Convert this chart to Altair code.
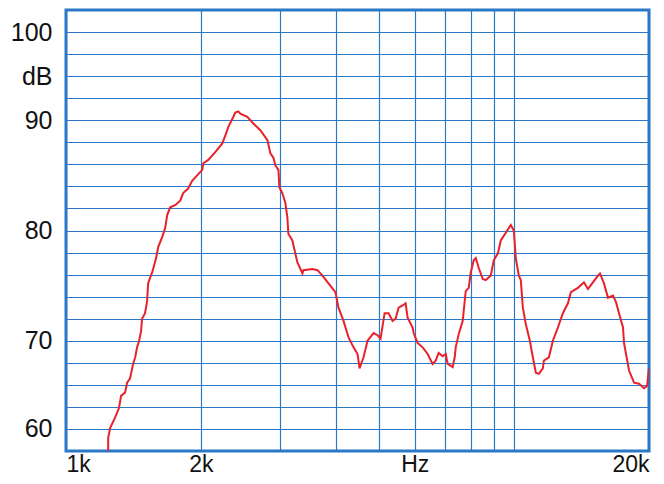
import altair as alt
import pandas as pd

freq_hz = [
    1242, 1242, 1255, 1286, 1313, 1327, 1355, 1369, 1390, 1412, 1427, 1441,
    1456, 1471, 1478, 1501, 1517, 1525, 1540, 1557, 1589, 1606, 1639, 1664,
    1682, 1708, 1752, 1798, 1826, 1873, 1912, 1962, 2014, 2025, 2077, 2153,
    2233, 2267, 2303, 2362, 2387, 2424, 2449, 2539, 2605, 2714, 2815, 2858,
    2903, 2933, 2979, 2994, 3040, 3087, 3119, 3135, 3200, 3250, 3284, 3370,
    3387, 3547, 3640, 3735, 3853, 3993, 4056, 4162, 4271, 4382, 4473, 4519,
    4613, 4709, 4857, 4958, 5035, 5140, 5166, 5247, 5356, 5439, 5524, 5639,
    5726, 5786, 5937, 5967, 6091, 6250, 6413, 6580, 6683, 6787, 6928, 7036,
    7109, 7294, 7370, 7408, 7523, 7679, 7799, 7920, 8002, 8127, 8211, 8339,
    8512, 8644, 8870, 9008, 9196, 9338, 9582, 9831, 9985, 10088, 10245, 10351,
    10459, 10621, 10843, 11011, 11182, 11357, 11593, 11653, 11957, 12205,
    12524, 12850, 13185, 13390, 13881, 14317, 14615, 14996, 15387, 15547,
    15870, 16201, 16623, 16881, 17144, 17500, 17590, 17772, 18050, 18520,
    19004, 19499, 19802, 20000,
]

level_db = [
    60.0, 61.2, 62.1, 63.0, 63.9, 65.0, 65.3, 66.2, 66.6, 67.9, 68.5, 69.4,
    70.0, 70.9, 72.0, 72.5, 73.6, 75.2, 75.7, 76.2, 77.5, 78.5, 79.4, 80.2,
    81.4, 82.1, 82.3, 82.7, 83.4, 83.8, 84.5, 85.0, 85.5, 86.1, 86.4, 87.1,
    87.9, 88.6, 89.4, 90.3, 90.7, 90.8, 90.6, 90.3, 89.8, 89.1, 88.2, 87.0,
    86.6, 85.9, 85.5, 83.9, 83.4, 82.5, 81.2, 79.7, 79.1, 77.9, 77.1, 76.1,
    76.4, 76.5, 76.4, 75.9, 75.2, 74.4, 73.0, 71.8, 70.3, 69.4, 68.8, 67.5,
    68.5, 70.0, 70.7, 70.5, 70.2, 72.5, 72.5, 72.5, 71.8, 72.0, 73.0, 73.2,
    73.4, 72.1, 71.2, 70.7, 69.8, 69.4, 68.8, 67.9, 68.2, 68.9, 68.6, 68.8,
    67.9, 67.6, 68.5, 69.4, 70.6, 71.8, 74.5, 74.8, 76.2, 77.3, 77.5, 76.6,
    75.6, 75.5, 75.9, 77.3, 77.9, 79.1, 79.8, 80.5, 80.0, 77.5, 75.9, 75.5,
    73.0, 71.5, 70.0, 68.5, 67.1, 67.0, 67.5, 68.2, 68.5, 70.0,
    71.2, 72.5, 73.4, 74.4, 74.8, 75.3, 74.7, 75.3, 75.9, 76.1,
    75.2, 73.9, 74.1, 73.5, 72.5, 71.2, 69.8, 68.8, 67.3, 66.2,
    66.1, 65.7, 65.9, 67.5,
]

x_grid = [1000, 2000, 3000, 4000, 5000, 6000, 7000, 8000, 9000, 10000, 20000]
x_label_values = [1000, 2000, 6000, 20000]
x_label_texts = ["1k", "2k", "Hz", "20k"]

y_grid = list(range(60, 101, 2))
y_label_values = [62, 70, 80, 90, 94, 98]
y_label_texts = ["60", "70", "80", "90", "dB", "100"]


def label_expr(values, texts):
    expr = "''"
    for v, t in reversed(list(zip(values, texts))):
        expr = f"datum.value == {v} ? '{t}' : ({expr})"
    return expr


df = pd.DataFrame({"f": freq_hz, "db": level_db})

blue = "#2a78c6"
red = "#e8212b"

chart = (
    alt.Chart(df)
    .mark_line(color=red, strokeWidth=2, clip=True)
    .encode(
        x=alt.X(
            "f:Q",
            scale=alt.Scale(type="log", domain=[1000, 20000], nice=False),
            axis=alt.Axis(
                values=x_grid,
                labelExpr=label_expr(x_label_values, x_label_texts),
                title=None,
                grid=True,
                gridColor=blue,
                gridOpacity=1,
                gridWidth=1.2,
                domain=False,
                ticks=False,
                tickSize=0,
                labelPadding=2,
                labelFlush=True,
                labelOverlap=False,
                labelFont="Liberation Sans",
                labelFontSize=23,
                labelColor="#111111",
            ),
        ),
        y=alt.Y(
            "db:Q",
            scale=alt.Scale(domain=[60, 100], nice=False, zero=False),
            axis=alt.Axis(
                values=y_grid,
                labelExpr=label_expr(y_label_values, y_label_texts),
                title=None,
                grid=True,
                gridColor=blue,
                gridOpacity=1,
                gridWidth=1.2,
                domain=False,
                ticks=False,
                tickSize=0,
                labelPadding=14,
                labelOverlap=False,
                labelFont="Liberation Sans",
                labelFontSize=25,
                labelColor="#111111",
            ),
        ),
    )
    .properties(
        width=583,
        height=441,
        padding={"left": 58, "top": 2, "right": 7, "bottom": 25},
        autosize=alt.AutoSizeParams(type="none"),
    )
    .configure_view(stroke=blue, strokeWidth=3)
)

chart.save("out.html", embed_options={"renderer": "svg", "actions": False})
